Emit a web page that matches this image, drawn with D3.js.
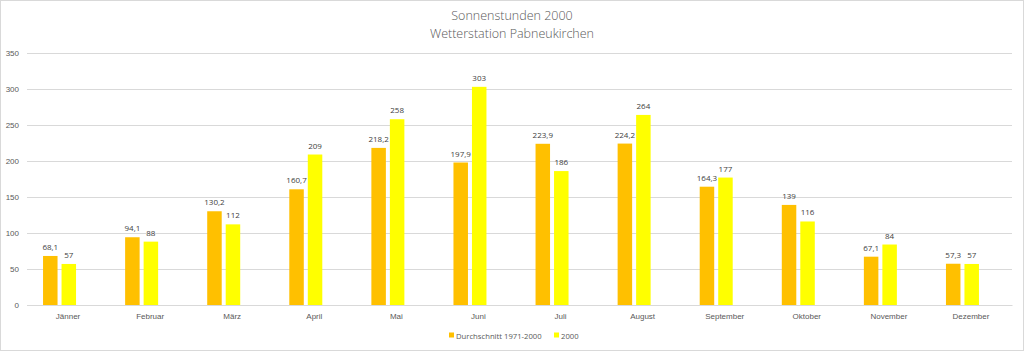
<!DOCTYPE html>
<html lang="de">
<head>
    <meta charset="UTF-8">
    <title>Sonnenstunden 2000</title>
    <script src="https://d3js.org/d3.v7.min.js"></script>
    <style>
        body { margin: 0; background: #fff; }
        svg { display: block; font-family: "Open Sans", "Liberation Sans", sans-serif; }
    </style>
    <script>
        const months = ["Jänner", "Februar", "März", "April", "Mai", "Juni",
            "Juli", "August", "September", "Oktober", "November", "Dezember"];
        const durchschnitt = [68.1, 94.1, 130.2, 160.7, 218.2, 197.9, 223.9, 224.2, 164.3, 139, 67.1, 57.3];
        const jahr2000 = [57, 88, 112, 209, 258, 303, 186, 264, 177, 116, 84, 57];
        const seriesNames = ["Durchschnitt 1971-2000", "2000"];
        const colors = ["#FFC000", "#FFFF00"];
        const yTicks = [0, 50, 100, 150, 200, 250, 300, 350];

        const deLocale = d3.formatLocale({decimal: ",", thousands: ".", grouping: [3], currency: ["", " €"]});
        const fmt = deLocale.format("~f");

        document.addEventListener("DOMContentLoaded", function() {
            const width = 1024, height = 351;
            const margin = {top: 53, right: 12, bottom: 46, left: 27};

            const svg = d3.select("svg").attr("width", width).attr("height", height);

            svg.append("rect")
                .attr("x", 0.5).attr("y", 0.5)
                .attr("width", width - 1).attr("height", height - 1)
                .attr("fill", "#fff").attr("stroke", "#d9d9d9");

            const g = svg.append("g").attr("transform", `translate(${margin.left},${margin.top})`);
            const w = width - margin.left - margin.right;
            const h = height - margin.top - margin.bottom;

            const x = d3.scaleBand().domain(months).range([0, w]);
            const y = d3.scaleLinear().domain([0, 350]).range([h, 0]);

            // grid lines
            g.append("g")
                .call(d3.axisLeft(y).tickValues(yTicks).tickSize(-w).tickFormat(""))
                .call(s => s.select(".domain").remove())
                .call(s => s.selectAll("line").attr("stroke", "#d9d9d9"));

            // y labels
            g.append("g")
                .call(d3.axisLeft(y).tickValues(yTicks).tickSize(0).tickPadding(8))
                .call(s => s.select(".domain").remove())
                .call(s => s.selectAll("text").attr("fill", "#595959").attr("font-size", 8));

            // x labels
            g.append("g")
                .attr("transform", `translate(0,${h})`)
                .call(d3.axisBottom(x).tickSize(0).tickPadding(8))
                .call(s => s.select(".domain").attr("stroke", "#d9d9d9"))
                .call(s => s.selectAll("text").attr("fill", "#595959").attr("font-size", 8));

            const data = months.map((m, i) => ({month: m, values: [durchschnitt[i], jahr2000[i]]}));
            const barW = 14.5, gap = 4;
            // bars sit a little left of the category label, as in the original
            const offset = x.bandwidth() / 2 - 8.5 - (2 * barW + gap) / 2;

            const groups = g.selectAll(".month")
                .data(data)
                .join("g")
                .attr("class", "month")
                .attr("transform", d => `translate(${x(d.month) + offset},0)`);

            groups.selectAll("rect")
                .data(d => d.values.map((v, i) => ({v, i})))
                .join("rect")
                .attr("x", d => d.i * (barW + gap))
                .attr("width", barW)
                .attr("y", d => y(d.v))
                .attr("height", d => h - y(d.v))
                .attr("fill", d => colors[d.i]);

            groups.selectAll("text")
                .data(d => d.values.map((v, i) => ({v, i})))
                .join("text")
                .attr("x", d => d.i * (barW + gap) + barW / 2)
                .attr("y", d => y(d.v) - 6)
                .attr("text-anchor", "middle")
                .attr("font-size", 8)
                .attr("fill", "#404040")
                .text(d => fmt(d.v));

            // title
            const title = svg.append("text")
                .attr("text-anchor", "middle")
                .attr("fill", "#595959")
                .attr("font-size", 12.5)
                .attr("font-weight", 300);
            title.append("tspan").attr("x", width / 2).attr("y", 20).text("Sonnenstunden 2000");
            title.append("tspan").attr("x", width / 2).attr("y", 38).text("Wetterstation Pabneukirchen");

            // legend
            const legend = svg.append("g").attr("transform", "translate(449,336)");
            const items = [{name: seriesNames[0], dx: 0}, {name: seriesNames[1], dx: 105}];
            items.forEach((it, i) => {
                const lg = legend.append("g").attr("transform", `translate(${it.dx},0)`);
                lg.append("rect").attr("x", 0).attr("y", -3.5).attr("width", 5).attr("height", 5).attr("fill", colors[i]);
                lg.append("text").attr("x", 7).attr("y", 2.5).attr("font-size", 7.7).attr("fill", "#595959").text(it.name);
            });
        });
    </script>
</head>
<body>
    <svg></svg>
</body>
</html>
